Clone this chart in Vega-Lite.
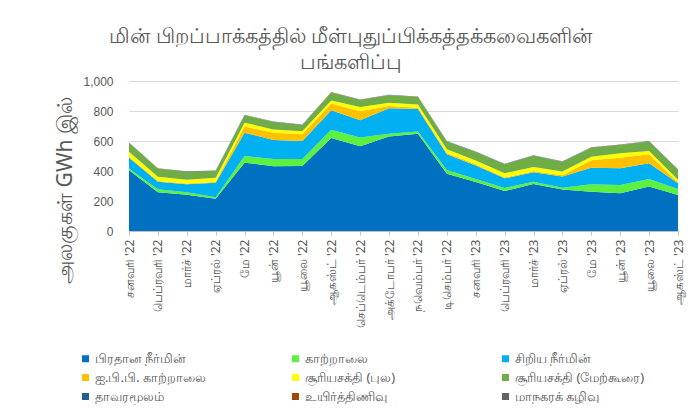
{
  "$schema": "https://vega.github.io/schema/vega-lite/v6.json",
  "width": 549,
  "height": 150,
  "autosize": "none",
  "padding": {"left": 129, "top": 81, "right": 21, "bottom": 186},
  "background": "white",
  "title": {
    "text": ["மின்  பிறப்பாக்கத்தில்   மீள்புதுப்பிக்கத்தக்கவைகளின்", "பங்களிப்பு"],
    "anchor": "middle",
    "dx": -53,
    "offset": 2,
    "fontSize": 21,
    "fontWeight": "normal",
    "color": "#595959",
    "font": "Noto Sans",
    "lineHeight": 26
  },
  "datasets": {
    "months": [
      {"m": "சனவரி '22", "hydro": 405, "wind": 12, "mini": 72, "ippw": 6, "solar": 34, "roof": 58, "dendro": 1, "bio": 1, "msw": 1},
      {"m": "பெப்ரவரி '22", "hydro": 258, "wind": 20, "mini": 50, "ippw": 5, "solar": 28, "roof": 55, "dendro": 1, "bio": 1, "msw": 1},
      {"m": "மார்ச் '22", "hydro": 242, "wind": 17, "mini": 53, "ippw": 5, "solar": 25, "roof": 53, "dendro": 1, "bio": 1, "msw": 1},
      {"m": "ஏப்ரல் '22", "hydro": 215, "wind": 10, "mini": 97, "ippw": 5, "solar": 28, "roof": 45, "dendro": 1, "bio": 1, "msw": 1},
      {"m": "மே '22", "hydro": 455, "wind": 45, "mini": 155, "ippw": 42, "solar": 25, "roof": 50, "dendro": 1, "bio": 1, "msw": 1},
      {"m": "யூன் '22", "hydro": 432, "wind": 48, "mini": 127, "ippw": 48, "solar": 22, "roof": 50, "dendro": 1, "bio": 1, "msw": 1},
      {"m": "யூலை '22", "hydro": 433, "wind": 47, "mini": 120, "ippw": 45, "solar": 20, "roof": 42, "dendro": 1, "bio": 1, "msw": 1},
      {"m": "ஆகஸ்ட் '22", "hydro": 620, "wind": 55, "mini": 130, "ippw": 45, "solar": 20, "roof": 53, "dendro": 1, "bio": 1, "msw": 1},
      {"m": "செப்டெம்பர் '22", "hydro": 565, "wind": 58, "mini": 115, "ippw": 60, "solar": 28, "roof": 48, "dendro": 1, "bio": 1, "msw": 1},
      {"m": "அக்டோபர் '22", "hydro": 630, "wind": 18, "mini": 170, "ippw": 15, "solar": 22, "roof": 50, "dendro": 1, "bio": 1, "msw": 1},
      {"m": "நவெம்பர் '22", "hydro": 648, "wind": 15, "mini": 150, "ippw": 8, "solar": 22, "roof": 50, "dendro": 1, "bio": 1, "msw": 1},
      {"m": "டிசெம்பர் '22", "hydro": 382, "wind": 25, "mini": 105, "ippw": 8, "solar": 25, "roof": 52, "dendro": 1, "bio": 1, "msw": 1},
      {"m": "சனவரி '23", "hydro": 327, "wind": 20, "mini": 90, "ippw": 8, "solar": 25, "roof": 57, "dendro": 1, "bio": 1, "msw": 1},
      {"m": "பெப்ரவரி '23", "hydro": 267, "wind": 20, "mini": 64, "ippw": 6, "solar": 28, "roof": 60, "dendro": 1, "bio": 1, "msw": 1},
      {"m": "மார்ச் '23", "hydro": 313, "wind": 16, "mini": 62, "ippw": 8, "solar": 28, "roof": 75, "dendro": 1, "bio": 1, "msw": 1},
      {"m": "ஏப்ரல் '23", "hydro": 277, "wind": 12, "mini": 75, "ippw": 8, "solar": 25, "roof": 65, "dendro": 1, "bio": 1, "msw": 1},
      {"m": "மே '23", "hydro": 262, "wind": 50, "mini": 110, "ippw": 50, "solar": 23, "roof": 60, "dendro": 2, "bio": 1, "msw": 1},
      {"m": "யூன் '23", "hydro": 252, "wind": 55, "mini": 111, "ippw": 70, "solar": 30, "roof": 55, "dendro": 2, "bio": 1, "msw": 1},
      {"m": "யூலை '23", "hydro": 296, "wind": 50, "mini": 105, "ippw": 60, "solar": 22, "roof": 63, "dendro": 2, "bio": 1, "msw": 1},
      {"m": "ஆகஸ்ட் '23", "hydro": 240, "wind": 40, "mini": 38, "ippw": 5, "solar": 18, "roof": 68, "dendro": 1, "bio": 1, "msw": 1}
    ],
    "series": [
      {"k": "hydro", "name": "பிரதான நீர்மின்", "o": 1},
      {"k": "wind", "name": "காற்றாலை", "o": 2},
      {"k": "mini", "name": "சிறிய நீர்மின்", "o": 3},
      {"k": "ippw", "name": "ஐ.பி.பி. காற்றாலை", "o": 4},
      {"k": "solar", "name": "சூரியசக்தி (புல)", "o": 5},
      {"k": "roof", "name": "சூரியசக்தி (மேற்கூரை)", "o": 6},
      {"k": "dendro", "name": "தாவரமூலம்", "o": 7},
      {"k": "bio", "name": "உயிர்த்திணிவு", "o": 8},
      {"k": "msw", "name": "மாநகரக் கழிவு", "o": 9}
    ]
  },
  "data": {"name": "months"},
  "transform": [
    {"fold": ["hydro", "wind", "mini", "ippw", "solar", "roof", "dendro", "bio", "msw"], "as": ["k", "v"]},
    {"lookup": "k", "from": {"data": {"name": "series"}, "key": "k", "fields": ["name", "o"]}}
  ],
  "mark": {"type": "area", "opacity": 1},
  "encoding": {
    "x": {
      "field": "m",
      "type": "nominal",
      "sort": null,
      "scale": {"type": "point", "padding": 0},
      "axis": {
        "title": null,
        "labelAngle": -90,
        "labelAlign": "right",
        "labelBaseline": "middle",
        "labelFontSize": 12,
        "labelColor": "#595959",
        "labelPadding": 4,
        "domainColor": "#BFBFBF",
        "tickColor": "#BFBFBF",
        "tickSize": 4,
        "grid": false,
        "labelFont": "Noto Sans"
      }
    },
    "y": {
      "field": "v",
      "type": "quantitative",
      "stack": "zero",
      "scale": {"domain": [0, 1000], "nice": false},
      "axis": {
        "title": "அலகுகள்  GWh  இல்",
        "titleFontSize": 21,
        "titleFontWeight": "normal",
        "titleColor": "#595959",
        "titleFont": "Noto Sans",
        "titleX": -64,
        "titleY": 109,
        "titleAngle": -90,
        "titleAlign": "center",
        "titleBaseline": "middle",
        "values": [0, 200, 400, 600, 800, 1000],
        "format": ",d",
        "labelFontSize": 12,
        "labelColor": "#595959",
        "labelFont": "Liberation Sans",
        "labelPadding": 16,
        "domain": false,
        "ticks": false,
        "gridColor": "#D9D9D9",
        "gridWidth": 1.2
      }
    },
    "color": {
      "field": "name",
      "type": "nominal",
      "scale": {
        "domain": ["பிரதான நீர்மின்", "காற்றாலை", "சிறிய நீர்மின்", "ஐ.பி.பி. காற்றாலை", "சூரியசக்தி (புல)", "சூரியசக்தி (மேற்கூரை)", "தாவரமூலம்", "உயிர்த்திணிவு", "மாநகரக் கழிவு"],
        "range": ["#0070C0", "#5CF040", "#00B0F0", "#FFC000", "#FFFF00", "#70AD47", "#255E91", "#9E480E", "#636363"]
      },
      "legend": {
        "title": null,
        "orient": "none",
        "legendX": -50,
        "legendY": 271,
        "direction": "horizontal",
        "columns": 3,
        "gridAlign": "all",
        "symbolType": "square",
        "symbolSize": 49,
        "symbolStrokeWidth": 0,
        "symbolOffset": 0,
        "labelOffset": 3,
        "labelFontSize": 13,
        "labelColor": "#595959",
        "labelFont": "Noto Sans",
        "labelLimit": 250,
        "columnPadding": 64,
        "rowPadding": 5
      }
    },
    "order": {"field": "o", "type": "quantitative", "sort": "ascending"}
  },
  "config": {
    "view": {"stroke": null},
    "axis": {"gridColor": "#D9D9D9"}
  }
}
